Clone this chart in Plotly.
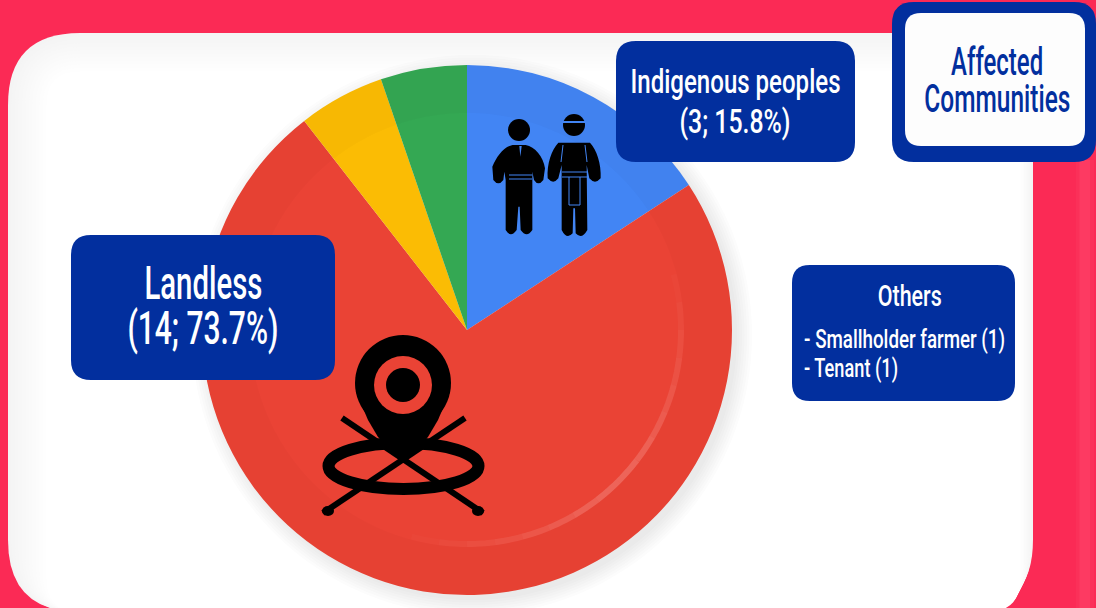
import json
import math
import plotly.graph_objects as go

categories = ["Indigenous peoples", "Landless", "Smallholder farmer", "Tenant"]
values = [3, 14, 1, 1]
colors = ["#4285F4", "#EA4335", "#FBBC04", "#34A853"]

W, H = 1096, 608
NAVY = "#022F9E"
CRIMSON = "#FB2A55"
FONT = "Roboto"
CX, CY, R = 467, 330, 265


def px(x, y):
    return x / W, 1 - y / H


def to_path(cmds):
    out = []
    for c in cmds:
        nums = c[1:]
        conv = []
        for i in range(0, len(nums), 2):
            a, b = px(nums[i], nums[i + 1])
            conv.append(f"{a:.5f},{b:.5f}")
        out.append(c[0] + " ".join(conv))
    return " ".join(out)


def rrect(x0, y0, x1, y1, r):
    pts = [("M", x0 + r, y0), ("L", x1 - r, y0), ("Q", x1, y0, x1, y0 + r), ("L", x1, y1 - r),
           ("Q", x1, y1, x1 - r, y1), ("L", x0 + r, y1), ("Q", x0, y1, x0, y1 - r), ("L", x0, y0 + r),
           ("Q", x0, y0, x0 + r, y0)]
    return to_path(pts) + " Z"


def z(cmds):
    """Icon outline given in 3x crop coordinates of the people icon."""
    res = []
    for c in cmds:
        nums = list(c[1:])
        conv = [c[0]]
        for i in range(0, len(nums), 2):
            conv += [470 + nums[i] / 3, 90 + nums[i + 1] / 3]
        res.append(tuple(conv))
    return to_path(res) + " Z"


shapes = []


def path(d, fill, layer="above", line=None, width=0):
    shapes.append(dict(type="path", xref="paper", yref="paper", path=d, fillcolor=fill, layer=layer,
                       line=dict(color=line or fill, width=width)))


def circle(x, y, rx, ry=None, fill="black", layer="above", line=None, width=0):
    ry = ry if ry is not None else rx
    a0, b0 = px(x - rx, y + ry)
    a1, b1 = px(x + rx, y - ry)
    shapes.append(dict(type="circle", xref="paper", yref="paper", x0=a0, y0=b0, x1=a1, y1=b1,
                       fillcolor=fill, layer=layer, line=dict(color=line or "rgba(0,0,0,0)", width=width)))


def seg(x0, y0, x1, y1, color="black", width=6, layer="above"):
    a0, b0 = px(x0, y0)
    a1, b1 = px(x1, y1)
    shapes.append(dict(type="line", xref="paper", yref="paper", x0=a0, y0=b0, x1=a1, y1=b1, layer=layer,
                       line=dict(color=color, width=width)))


def arc(r, a0, a1, color, width):
    pts = []
    steps = 6
    for i in range(steps + 1):
        t = math.radians(a0 + (a1 - a0) * i / steps)
        pts.append((("M" if i == 0 else "L"), CX + r * math.cos(t), CY + r * math.sin(t)))
    shapes.append(dict(type="path", xref="paper", yref="paper", path=to_path(pts), layer="above",
                       fillcolor="rgba(0,0,0,0)", line=dict(color=color, width=width)))


# lighter vertical strip on the right edge of the backdrop
seg(1078, 160, 1078, 608, color="#FB3059", width=4, layer="below")
seg(1085, 160, 1085, 608, color="#FD3A62", width=11, layer="below")
seg(1092, 160, 1092, 608, color="#FB3059", width=4, layer="below")

# background panel with a soft grey edge
shades = ["#F4F4F4", "#F5F5F5", "#F6F6F6", "#F7F7F7", "#F8F8F8", "#F9F9F9", "#FAFAFA",
          "#FBFBFB", "#FCFCFC", "#FDFDFD", "#FEFEFE", "#FFFFFF"]
for k, col in enumerate(shades):
    inset = k * 3.5
    path(rrect(8 + inset, 33 + inset, 1033 - inset / 3, 612, max(72 - inset, 10)), col, layer="below")

# soft pie shadow, offset to the lower right
for i in range(7):
    circle(CX + 5, CY + 5, R + 15 - i * 2.5, fill="rgba(70,80,90,0.016)", layer="below")

# plate rim and sheen on the pie
circle(CX, CY, R - 24, fill="rgba(0,0,0,0)", line="rgba(60,0,0,0.018)", width=48)
sheen = [0.02, 0.04, 0.06, 0.08, 0.10, 0.13, 0.16, 0.18, 0.18, 0.16, 0.13, 0.10, 0.08, 0.06, 0.04, 0.02]
for k, alpha in enumerate(sheen):
    start = -15 + k * 7.5
    arc(214, start, start + 7.5, f"rgba(255,255,255,{alpha})", 6)

# location icon
RED = colors[1]
circle(403, 383, 48, fill="black")
path(to_path([("M", 356, 392), ("L", 368, 420), ("L", 378, 437), ("L", 403, 462), ("L", 428, 437),
              ("L", 438, 420), ("L", 450, 392)]) + " Z", "black")
circle(403, 385, 29, fill=RED)
circle(403, 385, 17, fill="black")
circle(403.5, 466, 75, 23, fill="rgba(0,0,0,0)", line="black", width=12)
seg(342, 418, 483, 513, width=6)
seg(465, 418, 323, 513, width=6)
circle(328, 511, 6, 5)
circle(478, 511, 6, 5)

# people icon
BLUE = colors[0]
circle(519, 130, 11)
path(z([("M", 128, 165), ("L", 167, 165), ("C", 195, 170, 220, 200, 225, 235), ("L", 220, 270),
        ("Q", 205, 290, 192, 270), ("L", 187, 245), ("L", 187, 420), ("Q", 170, 445, 152, 420),
        ("L", 149, 350), ("L", 145, 350), ("L", 140, 420), ("Q", 122, 445, 107, 420), ("L", 107, 270),
        ("L", 103, 245), ("L", 100, 270), ("Q", 85, 290, 70, 270), ("L", 67, 230),
        ("C", 80, 200, 100, 170, 128, 165)]), "black")
path(z([("M", 148, 168), ("L", 155, 168), ("L", 151, 200)]), BLUE)
seg(509, 175, 532, 175, color=BLUE, width=1)
seg(509, 179, 532, 179, color=BLUE, width=1)
circle(574, 125, 11)
seg(562, 122, 586, 122, color=BLUE, width=2)
path(z([("M", 265, 158), ("L", 360, 158), ("C", 380, 180, 394, 220, 392, 265), ("Q", 375, 285, 358, 265),
        ("L", 350, 225), ("L", 352, 420), ("Q", 335, 450, 317, 430), ("L", 315, 355), ("L", 310, 355),
        ("L", 308, 430), ("Q", 290, 450, 275, 420), ("L", 275, 225), ("L", 265, 265),
        ("Q", 250, 285, 233, 265), ("C", 230, 220, 245, 180, 265, 158)]), "black")
seg(562, 172, 587, 172, color=BLUE, width=1)
seg(562, 177, 587, 177, color=BLUE, width=1)
seg(569, 177, 569, 205, color=BLUE, width=1)
seg(580, 177, 580, 205, color=BLUE, width=1)
seg(569, 205, 580, 205, color=BLUE, width=1)
seg(563, 145, 561, 162, color=BLUE, width=1)
seg(585, 145, 587, 162, color=BLUE, width=1)

# label boxes
path(rrect(616, 41, 855, 162, 20), NAVY)
path(rrect(71, 235, 335, 380, 20), NAVY)
path(rrect(792, 265, 1015, 401, 18), NAVY)
path(rrect(892, 2, 1096, 162, 22), NAVY)
path(rrect(905, 13, 1085, 146, 16), "#FDFDFD")

label_texts = ["Indigenous peoples", "(3; 15.8%)", "Landless", "(14; 73.7%)", "Others",
               "- Smallholder farmer (1)", "- Tenant (1)", "Affected", "Communities"]
label_x = [735, 735, 203, 203, 909, 802, 802, 997, 997]
label_y = [81, 121, 283, 328, 295, 339, 368, 62, 99]
label_size = [34, 34, 46, 46, 30, 26, 26, 38, 38]
label_color = ["white"] * 7 + [NAVY] * 2
label_anchor = ["center"] * 5 + ["left"] * 2 + ["center"] * 2
label_width = [210, 111, 118, 151, 64, 201, 94, 92, 146]

annotations = []
for t, x, y, s, c, a in zip(label_texts, label_x, label_y, label_size, label_color, label_anchor):
    ax, ay = px(x, y)
    annotations.append(dict(text=t, x=ax, y=ay, xref="paper", yref="paper", showarrow=False, xanchor=a,
                            yanchor="middle", font=dict(family=FONT, size=s, color=c, weight=500)))

pie = go.Pie(labels=categories, values=values, sort=False, direction="clockwise", rotation=0,
             marker=dict(colors=colors, line=dict(width=0)), textinfo="none", hoverinfo="label+value+percent",
             showlegend=False,
             domain=dict(x=[(CX - R) / W, (CX + R) / W], y=[1 - (CY + R) / H, 1 - (CY - R) / H]))

fig = go.Figure(pie)
fig.update_layout(width=W, height=H, margin=dict(l=0, r=0, t=0, b=0), paper_bgcolor=CRIMSON,
                  shapes=shapes, annotations=annotations, showlegend=False)

post = """
document.body.style.margin='0';document.body.style.overflow='hidden';
var gd=document.getElementById('{plot_id}');
var widths=%s, anchors=%s;
function squeeze(){
  gd.querySelectorAll('.annotation-text').forEach(function(el,i){
    var b=el.getBBox();
    var s=widths[i]/b.width;
    var ox=anchors[i]==='left'?b.x:b.x+b.width/2;
    el.setAttribute('transform','translate('+ox+',0) scale('+s+',1) translate('+(-ox)+',0)');
  });
}
squeeze();
setTimeout(squeeze,50);
if(gd.on){gd.on('plotly_afterplot',squeeze);}
""" % (json.dumps(label_width), json.dumps(label_anchor))
fig.write_html("out.html", post_script=post, config={"displayModeBar": False})
